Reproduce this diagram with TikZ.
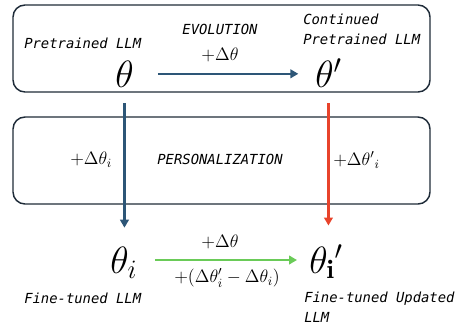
\documentclass[tikz,border=0pt]{standalone}
\usepackage{fix-cm}
\usepackage{amsmath,amssymb}
\usepackage{xcolor}
\usepackage{fontspec}
\newfontfamily\labelfont{DejaVu Sans Mono}
\usepackage{tikz}
\usetikzlibrary{positioning}
\usetikzlibrary{arrows.meta}
\definecolor{boxline}{HTML}{1E2B38}
\definecolor{evoblue}{HTML}{2D5677}
\definecolor{upred}{HTML}{E8432B}
\definecolor{ftgreen}{HTML}{6ACB58}
\tikzset{%
  stage/.style = {draw=boxline,line width=1.1pt,rounded corners=9pt},
  param/.style = {inner sep=0pt,font=\fontsize{28.5}{30}\selectfont},
  delta/.style = {inner sep=0pt,font=\fontsize{13.5}{15}\selectfont},
  tag/.style = {inner sep=0pt,align=left,
        font=\labelfont\itshape\fontsize{10.4}{15}\selectfont},
  flow/.style = {-{Triangle[length=6pt,width=6.5pt]},line width=2pt}
}

\begin{document}
\begin{tikzpicture}[x=0.75pt,y=-0.75pt]
                            \useasboundingbox (0,0) rectangle (459,325);
                            % stage boxes
                            \draw[stage] (13,5) rectangle (430,92);
                            \draw[stage] (13,117) rectangle (430,204);
                            % parameters
                            \node[param,anchor=base west] (theta) at (115,87) {$\theta$};
                            \node[param,anchor=base west] (thetap) at (315,87) {$\theta'$};
                            \node[param,anchor=base west] (thetai) at (110,273) {$\theta_i$};
                            \node[param,anchor=base west] (thetaip) at (309,273) {$\theta_{\mathbf{i}}{}'$};
                            % texts
                            \node[tag,anchor=west] (pretrained) at (24,43) {Pretrained LLM};
                            \node[tag,anchor=west] (continued) at (303,29) {Continued\\Pretrained LLM};
                            \node[tag] (evolution) at (220,29) {EVOLUTION};
                            \node[delta] (evodelta) at (220,55) {$+\Delta\theta$};
                            \node[tag] (personal) at (220,159) {PERSONALIZATION};
                            \node[delta,anchor=west] (persleft) at (70,160) {$+\Delta\theta_i$};
                            \node[delta,anchor=west] (persright) at (333,160) {$+\Delta\theta'{}_i$};
                            \node[delta] (ftdelta) at (220,242) {$+\Delta\theta$};
                            \node[delta] (ftcorr) at (227,278) {$+(\Delta\theta_i' - \Delta\theta_i)$};
                            \node[tag,anchor=west] (finetuned) at (24,298) {Fine-tuned LLM};
                            \node[tag,anchor=west] (updated) at (304,307) {Fine-tuned Updated\\LLM};
                            % connectors
                            \draw[flow,evoblue,line width=1.7pt,shorten <=18pt,shorten >=12.5pt]
                                (theta.east) -- (theta.east -| thetap.west);
                            \draw[flow,evoblue,shorten <=12pt,shorten >=14pt]
                                (theta.south) -- (theta.south |- thetai.north);
                            \draw[flow,upred,shorten <=12pt,shorten >=14pt]
                                (thetap.south) -- (thetap.south |- thetaip.north);
                            \draw[flow,ftgreen,shorten <=13pt,shorten >=9pt]
                                (thetai.east |- 0,260) -- (thetaip.west |- 0,260);
                        \end{tikzpicture}
\end{document}
